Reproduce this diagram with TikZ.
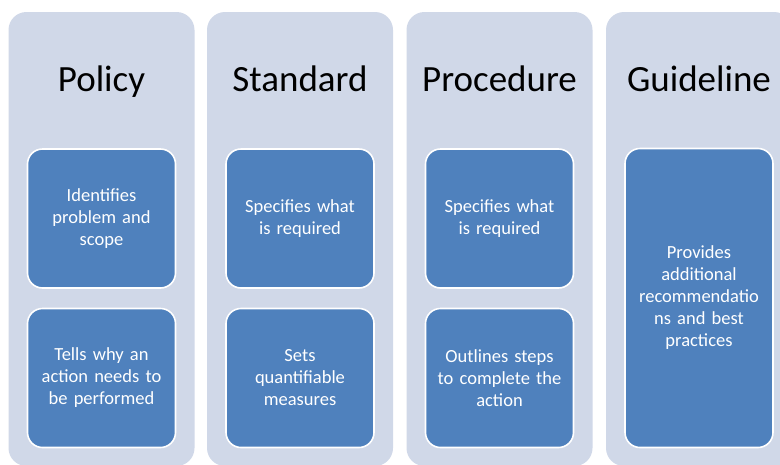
\documentclass[tikz,border=0pt]{standalone}
\usepackage{fontspec}
\setmainfont{Carlito}
\definecolor{colbg}{HTML}{D0D8E8}
\definecolor{boxbg}{HTML}{4F81BD}
\begin{document}
\begin{tikzpicture}[x=1pt,y=-1pt,
  column/.style={fill=colbg, draw=none, rounded corners=18pt, minimum width=186pt, minimum height=454pt, inner sep=0pt},
  title/.style={font=\fontsize{37}{40}\selectfont, text=black, inner sep=0pt, anchor=base},
  item/.style={fill=boxbg, draw=white, line width=1.6pt, rounded corners=15pt, minimum width=148pt, inner sep=0pt,
    text=white, align=center, font=\fontsize{18.5}{22}\selectfont, text width=140pt}]
\useasboundingbox (0,0) rectangle (780,464);
\fill[white] (0,0) rectangle (780,464);
\clip (0,0) rectangle (780,464);
% columns
\node[column] (c1) at (101.5,239) {};
\node[column] (c2) at (300,239) {};
\node[column] (c3) at (499.5,239) {};
\node[column] (c4) at (699,239) {};
% titles
\node[title] (t1) at (101.5,91) {Policy};
\node[title] (t2) at (300,91) {Standard};
\node[title] (t3) at (499.5,91) {Procedure};
\node[title] (t4) at (699,91) {Guideline};
% boxes
\node[item, minimum height=139pt] (b11) at (101.5,218.5) {Identifies\\problem and\\scope};
\node[item, minimum height=139pt] (b12) at (101.5,378) {Tells why an\\action needs to\\be performed};
\node[item, minimum height=139pt] (b21) at (300,218.5) {Specifies what\\is required};
\node[item, minimum height=139pt] (b22) at (300,378) {Sets\\quantifiable\\measures};
\node[item, minimum height=139pt] (b31) at (499.5,218.5) {Specifies what\\is required};
\node[item, minimum height=139pt] (b32) at (499.5,378) {Outlines steps\\to complete the\\action};
\node[item, minimum height=299pt] (b41) at (699,298) {Provides\\additional\\recommendatio\\ns and best\\practices};
\end{tikzpicture}
\end{document}
